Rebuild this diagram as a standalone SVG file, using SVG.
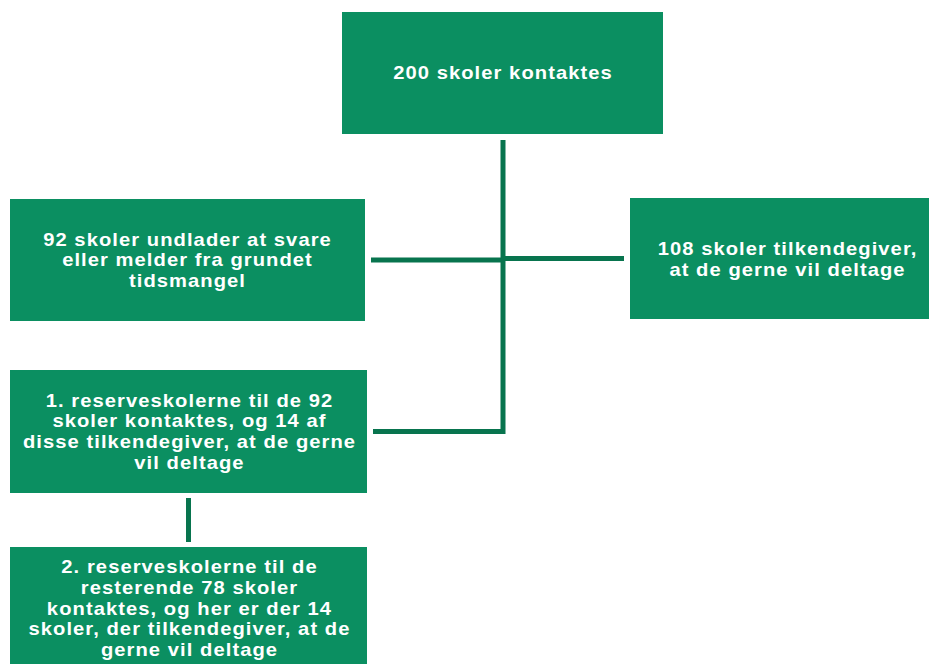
<svg xmlns="http://www.w3.org/2000/svg" width="929" height="664" viewBox="0 0 929 664">
<style>
.box{fill:#0b8f61}
.t{fill:#ffffff;font-family:"Liberation Sans",Arial,sans-serif;font-weight:bold;font-size:18px;letter-spacing:0.95px;text-anchor:middle}
.c{stroke:#08744e;stroke-width:5;fill:none}
</style>
<rect width="929" height="664" fill="#ffffff"/>
<g id="connectors">
<path class="c" d="M503,140 V431.5 H373"/>
<path class="c" d="M371,260 H503"/>
<path class="c" d="M503,258.5 H624"/>
<path class="c" d="M188.5,498 V542"/>
</g>
<g id="n1">
<rect class="box" x="342" y="12" width="321" height="122"/>
<g transform="translate(503,0) scale(1.12,1)">
<text class="t" x="0" y="79">200 skoler kontaktes</text>
</g>
</g>
<g id="n2">
<rect class="box" x="10" y="199" width="355" height="122"/>
<g transform="translate(187.5,0) scale(1.12,1)">
<text class="t" x="0" y="245.7">92 skoler undlader at svare</text>
<text class="t" x="0" y="266.4">eller melder fra grundet</text>
<text class="t" x="0" y="287.1">tidsmangel</text>
</g>
</g>
<g id="n3">
<rect class="box" x="630" y="198" width="299" height="121"/>
<g transform="translate(787.5,0) scale(1.12,1)">
<text class="t" x="0" y="255.5">108 skoler tilkendegiver,</text>
<text class="t" x="0" y="276.2">at de gerne vil deltage</text>
</g>
</g>
<g id="n4">
<rect class="box" x="10" y="370" width="357" height="123"/>
<g transform="translate(189.5,0) scale(1.12,1)">
<text class="t" x="0" y="406.7">1. reserveskolerne til de 92</text>
<text class="t" x="0" y="427.4">skoler kontaktes, og 14 af</text>
<text class="t" x="0" y="448.1">disse tilkendegiver, at de gerne</text>
<text class="t" x="0" y="468.8">vil deltage</text>
</g>
</g>
<g id="n5">
<rect class="box" x="10" y="547" width="357" height="117"/>
<g transform="translate(189.5,0) scale(1.12,1)">
<text class="t" x="0" y="573.3">2. reserveskolerne til de</text>
<text class="t" x="0" y="594">resterende 78 skoler</text>
<text class="t" x="0" y="614.7">kontaktes, og her er der 14</text>
<text class="t" x="0" y="635.4">skoler, der tilkendegiver, at de</text>
<text class="t" x="0" y="656.1">gerne vil deltage</text>
</g>
</g>
</svg>
